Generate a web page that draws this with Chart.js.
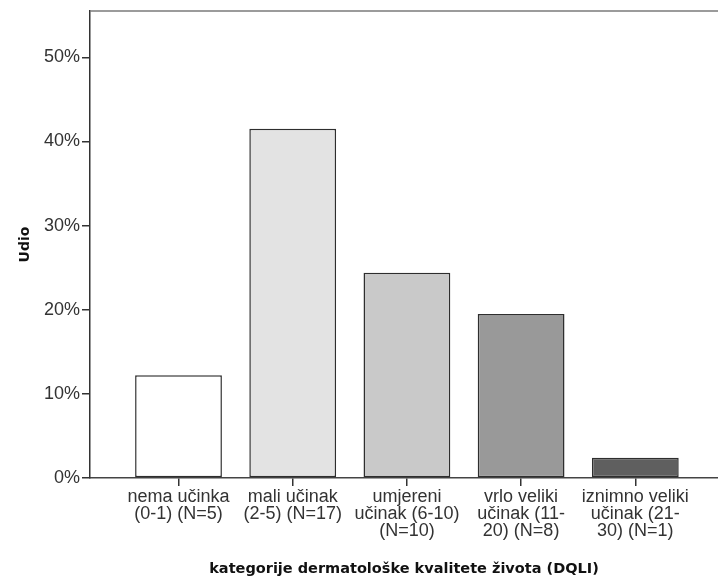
<!DOCTYPE html>
<html>
<head>
<meta charset="utf-8">
<script src="https://cdn.jsdelivr.net/npm/chart.js@4"></script>
<style>
html,body{margin:0;padding:0;background:#fff;}
#wrap{width:718px;height:581px;position:relative;}
</style>
</head>
<body>
<div id="wrap"><canvas id="c"></canvas></div>
<script>
const categories = [
  ["nema učinka", "(0-1) (N=5)"],
  ["mali učinak", "(2-5) (N=17)"],
  ["umjereni", "učinak (6-10)", "(N=10)"],
  ["vrlo veliki", "učinak (11-", "20) (N=8)"],
  ["iznimno veliki", "učinak (21-", "30) (N=1)"]
];
const values = [12.2, 41.5, 24.4, 19.5, 2.4];
const barColors = ["#ffffff", "#e3e3e3", "#c9c9c9", "#999999", "#5f5f5f"];
const yTicks = [0, 10, 20, 30, 40, 50];
const yTitle = "Udio";
const xTitle = "kategorije dermatološke kvalitete života (DQLI)";

const topFrame = {
  id: 'topFrame',
  afterDraw(chart) {
    const {ctx, chartArea} = chart;
    ctx.save();
    ctx.strokeStyle = '#7a7a7a';
    ctx.lineWidth = 1.6;
    ctx.beginPath();
    ctx.moveTo(chartArea.left, chartArea.top);
    ctx.lineTo(chartArea.right, chartArea.top);
    ctx.stroke();
    ctx.restore();
  }
};

new Chart(document.getElementById('c'), {
  type: 'bar',
  data: {
    datasets: [{
      data: values.map((v, i) => ({x: i, y: v})),
      backgroundColor: barColors,
      borderColor: '#2e2e2e',
      borderWidth: 1.5,
      borderSkipped: false,
      barPercentage: 0.76,
      categoryPercentage: 1.0
    }]
  },
  options: {
    responsive: true,
    maintainAspectRatio: false,
    animation: false,
    layout: {padding: {left: 0, top: 9.5, right: 0, bottom: 0}},
    plugins: {legend: {display: false}, tooltip: {enabled: false}},
    scales: {
      x: {
        type: 'linear',
        offset: false,
        min: -0.775,
        max: 4.724,
        afterBuildTicks(scale) { scale.ticks = categories.map((_, i) => ({value: i})); },
        afterFit(scale) { scale.height = 103; },
        ticks: {
          autoSkip: false,
          maxRotation: 0,
          minRotation: 0,
          padding: 2,
          color: '#333',
          font: {family: 'Liberation Sans, Arial, sans-serif', size: 18, lineHeight: 0.95},
          callback: (v) => categories[v]
        },
        grid: {offset: false, drawOnChartArea: false, drawTicks: true, tickLength: 8, color: '#333', lineWidth: 1.5},
        border: {display: true, color: '#444', width: 1.5},
        title: {
          display: true, text: xTitle, color: '#111',
          font: {family: 'DejaVu Sans, Verdana, sans-serif', size: 14.5, weight: 'bold'},
          padding: {top: 0, bottom: 3}
        }
      },
      y: {
        min: 0,
        max: 55.5,
        afterBuildTicks(scale) { scale.ticks = yTicks.map(v => ({value: v})); },
        afterFit(scale) { scale.width = 90; },
        ticks: {
          padding: 2,
          color: '#333',
          font: {family: 'Liberation Sans, Arial, sans-serif', size: 18, lineHeight: 1.0},
          callback: (v) => v + '%'
        },
        grid: {drawOnChartArea: false, drawTicks: true, tickLength: 8, color: '#333', lineWidth: 1.5},
        border: {display: true, color: '#333', width: 1.5},
        title: {
          display: true, text: yTitle, color: '#111',
          font: {family: 'DejaVu Sans, Verdana, sans-serif', size: 14, weight: 'bold'},
          padding: {top: 17, bottom: 0}
        }
      }
    }
  },
  plugins: [topFrame]
});
</script>
</body>
</html>
